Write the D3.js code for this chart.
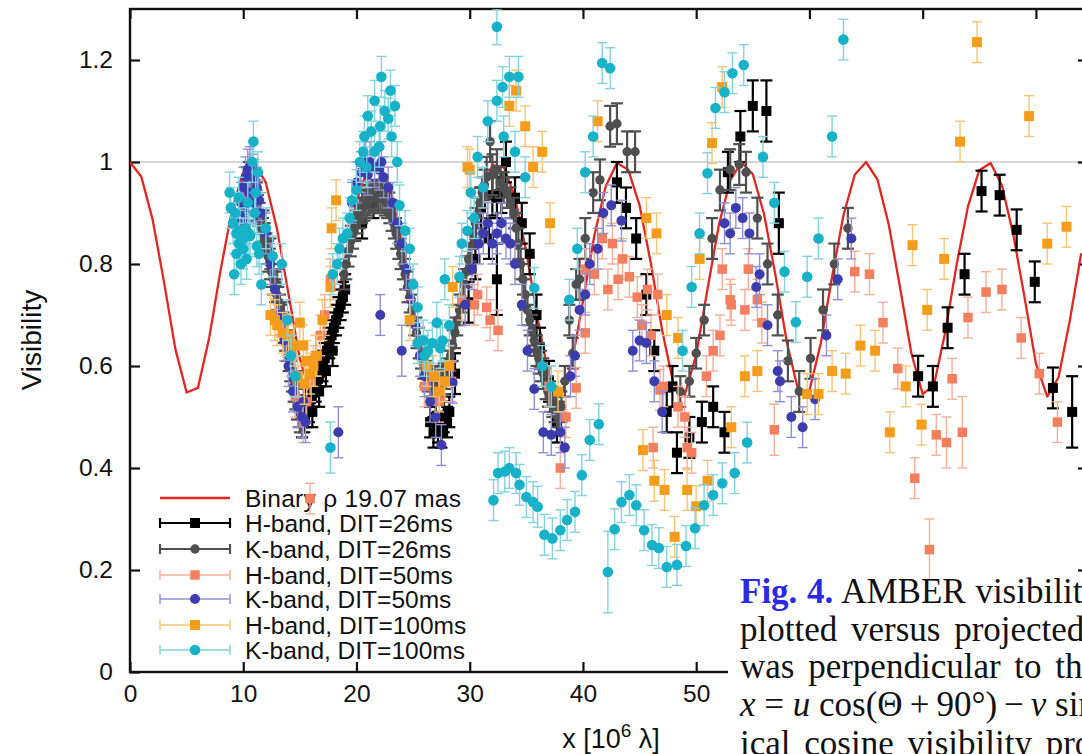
<!DOCTYPE html>
<html><head><meta charset="utf-8">
<script src="https://cdn.jsdelivr.net/npm/d3@7"></script>
<style>body{margin:0;background:#fff;overflow:hidden}</style>
</head><body>
<svg id="c" width="1082" height="754"></svg>
<script>
// ---------- data ----------
const xTicks = [0, 10, 20, 30, 40, 50, 60, 70, 80];
const yTicks = [0, 0.2, 0.4, 0.6, 0.8, 1, 1.2];
const yTickLabels = ["0", "0.2", "0.4", "0.6", "0.8", "1", "1.2"];

// binary model curve (rho = 19.07 mas), sampled at integer x
const modelX = [0,1,2,3,4,5,6,7,8,9,10,11,12,13,14,15,16,17,18,19,20,21,22,23,24,25,26,27,28,29,30,31,32,33,34,35,36,37,38,39,40,41,42,43,44,45,46,47,48,49,50,51,52,53,54,55,56,57,58,59,60,61,62,63,64,65,66,67,68,69,70,71,72,73,74,75,76,77,78,79,80,81,82,83,84];
const modelV = [1.000,0.971,0.887,0.765,0.634,0.548,0.557,0.656,0.788,0.905,0.980,0.999,0.959,0.867,0.741,0.614,0.541,0.570,0.680,0.811,0.923,0.988,0.996,0.946,0.846,0.716,0.595,0.539,0.586,0.704,0.834,0.939,0.994,0.991,0.931,0.824,0.692,0.579,0.539,0.603,0.727,0.855,0.952,0.998,0.985,0.915,0.801,0.669,0.564,0.544,0.622,0.751,0.876,0.964,1.000,0.976,0.897,0.778,0.647,0.553,0.552,0.644,0.775,0.895,0.975,1.000,0.966,0.878,0.754,0.625,0.545,0.563,0.667,0.799,0.913,0.984,0.998,0.954,0.858,0.734,0.605,0.540,0.578,0.690,0.821];

// each point: [x (10^6 lambda), visibility, error]
const h26 = [[15.2,.49,.03],[15.4,.50,.03],[15.6,.51,.03],[15.8,.52,.03],[16.0,.535,.03],[16.2,.55,.03],[16.4,.56,.03],[16.6,.575,.03],[16.8,.59,.03],[17.0,.60,.03],[17.2,.615,.03],[17.4,.63,.03],[17.6,.645,.03],[17.8,.66,.03],[18.0,.675,.03],[18.2,.69,.03],[18.4,.705,.03],[18.6,.72,.03],[18.8,.735,.03],[19.0,.75,.03],[15.5,.535,.03],[16.1,.51,.03],[16.7,.55,.03],[17.3,.59,.03],[17.9,.63,.03],[20.5,.88,.03],[21.5,.92,.03],
 [26.5,.49,.03],[26.8,.47,.03],[27.0,.50,.03],[27.2,.48,.03],[27.5,.47,.03],[27.7,.50,.03],[28.0,.49,.03],[28.2,.51,.03],[28.7,.585,.04],
 [29.9,.725,.04],[30.5,.81,.04],[31.0,.91,.04],[31.7,.85,.04],[32.0,.935,.04],[32.4,.93,.04],[32.4,.77,.07],[32.8,.94,.04],[33.2,1.0,.04],[34.0,.93,.04],[34.6,.88,.04],[35.3,.82,.04],[35.9,.70,.04],[36.2,.635,.04],[37.0,.57,.04],[37.7,.49,.04],
 [43.0,.96,.04],[43.8,.91,.04],[44.7,.85,.04],[45.6,.74,.04],[46.3,.63,.04],[47.4,.51,.04],[47.9,.56,.04],[48.3,.43,.04],[49.4,.46,.04],[50.5,.49,.04],[51.5,.52,.04],[52.5,.47,.04],[52.8,.98,.04],[53.9,1.05,.05],[55.0,1.11,.05],[56.2,1.10,.06],[57.3,.88,.06],
 [69.6,.58,.04],[70.9,.56,.04],[72.2,.675,.04],[73.7,.78,.04],[75.2,.943,.04],[76.8,.935,.04],[78.3,.867,.04],[79.9,.765,.04],[81.5,.557,.04],[83.2,.51,.07]];

const k26 = [[10.3,.96,.03],[10.5,.97,.03],[10.7,.965,.03],[10.9,.95,.03],[11.0,.93,.03],[11.15,.915,.03],[11.3,.905,.03],[11.45,.89,.03],[11.6,.87,.03],[11.75,.86,.03],[11.9,.85,.03],[12.05,.83,.03],[12.2,.815,.03],[12.35,.80,.03],[12.5,.785,.03],[12.65,.77,.03],[12.8,.755,.03],[12.95,.74,.03],[13.1,.725,.03],[13.25,.71,.03],[13.4,.69,.03],[13.55,.675,.03],[13.7,.66,.03],[13.85,.64,.03],[14.0,.62,.03],[14.15,.60,.03],[14.3,.58,.03],[14.45,.56,.03],[14.6,.545,.03],[14.75,.525,.03],[14.9,.51,.03],[15.0,.50,.03],
 [11.2,.93,.03],[11.8,.875,.03],[12.4,.82,.03],[13.0,.76,.03],[13.6,.695,.03],[14.2,.625,.03],[14.7,.56,.03],
 [18.9,.78,.03],[19.1,.80,.03],[19.3,.825,.03],[19.5,.845,.03],[19.7,.86,.03],[19.9,.875,.03],[20.1,.89,.03],[20.3,.90,.03],[20.5,.91,.03],[20.7,.915,.03],[20.9,.92,.03],[21.1,.925,.03],[21.3,.93,.03],[21.5,.93,.03],[21.7,.935,.03],[21.9,.93,.03],[22.1,.935,.03],[22.3,.93,.03],[22.5,.925,.03],[22.7,.92,.03],[22.9,.91,.03],[23.1,.895,.03],[23.3,.88,.03],[23.5,.86,.03],[23.7,.84,.03],[23.9,.82,.03],[24.1,.80,.03],[24.3,.78,.03],[24.5,.755,.03],[24.7,.735,.03],[24.9,.71,.03],[25.1,.69,.03],[25.3,.665,.03],[25.5,.645,.03],[25.7,.625,.03],[25.9,.605,.03],[26.1,.59,.03],[26.3,.58,.03],[26.5,.57,.03],[26.7,.565,.03],[26.9,.56,.03],[27.1,.56,.03],[27.3,.565,.03],[27.5,.57,.03],[27.7,.575,.03],[27.9,.585,.03],[28.1,.60,.03],[28.3,.62,.03],[28.5,.64,.03],[28.7,.665,.03],[28.9,.69,.03],[29.1,.71,.03],[29.3,.735,.03],[29.5,.76,.03],[29.7,.785,.03],[29.9,.81,.03],[30.1,.835,.03],[30.3,.86,.03],[30.5,.88,.03],[30.7,.90,.03],[30.9,.92,.03],[31.1,.94,.03],[31.3,.955,.03],[31.5,.97,.04],[31.8,1.04,.04],[32.0,.975,.04],[32.4,.985,.04],[32.7,.96,.03],[33.0,.95,.03],[33.3,.94,.03],[33.6,.92,.03],[33.9,.90,.03],[34.1,.87,.03],[34.3,.84,.03],[34.5,.80,.03],[34.7,.77,.03],[34.9,.74,.03],[35.1,.71,.03],[35.3,.69,.03],[35.5,.67,.03],[35.7,.65,.03],[35.9,.63,.03],[36.1,.615,.03],[36.3,.60,.03],[36.5,.585,.03],[36.7,.565,.03],[36.9,.55,.03],[37.1,.54,.03],[37.3,.53,.03],[37.5,.52,.03],[37.7,.51,.03],[37.9,.50,.03],[38.1,.52,.03],[38.4,.57,.03],[38.8,.69,.03],[39.1,.625,.03],[39.4,.76,.03],[39.7,.77,.04],[40.2,.85,.04],[40.9,.94,.04],[41.5,.965,.04],[42.4,1.07,.04],[43.0,1.075,.04],[43.9,1.02,.04],[44.6,1.02,.04],
 [48.6,.55,.03],[49.4,.57,.03],[50.0,.625,.03],[50.7,.69,.03],[51.4,.85,.04],[52.1,.945,.04],[53.0,.985,.04],[53.8,.995,.04],[54.4,.98,.04],[55.4,.89,.04],[56.3,.80,.04],[57.2,.70,.04],[58.1,.61,.04],[59.1,.55,.04],[60.1,.615,.04],[61.2,.71,.04],[62.2,.80,.04],[63.4,.87,.04]];

const h50 = [[13.8,.66,.04],[14.3,.62,.04],[14.6,.54,.04],[14.8,.58,.04],[15.3,.49,.04],[15.6,.53,.04],[16.0,.57,.04],[16.4,.62,.04],[16.8,.66,.04],[17.2,.70,.04],[17.7,.77,.04],[15.9,.34,.03],
 [26.0,.56,.04],[27.3,.53,.04],[28.4,.57,.04],
 [29.3,.73,.04],[30.4,.72,.04],[30.7,.74,.04],[31.5,.715,.04],[31.8,.69,.04],[32.5,.67,.04],
 [37.0,.56,.04],[38.0,.40,.04],[38.5,.50,.04],[39.4,.557,.04],
 [40.2,.665,.04],[40.2,.79,.04],[41.0,.78,.04],[41.7,.85,.04],[42.2,.75,.04],[42.6,.84,.04],[43.1,.77,.04],[43.5,.81,.04],[44.1,.775,.04],[44.8,.735,.04],[45.7,.75,.04],[46.6,.74,.04],[45.2,.68,.04],[46.0,.66,.04],
 [46.8,.553,.04],[47.1,.56,.04],[46.2,.44,.04],[49.2,.44,.04],[49.6,.43,.04],[50.9,.58,.04],[51.5,.63,.04],[52.1,.66,.04],[53.0,.73,.04],[48.4,.52,.04],[49.0,.50,.04],
 [52.3,.79,.04],[53.1,.72,.04],[54.3,.71,.04],[54.6,.79,.04],[55.4,.73,.04],[55.8,.685,.04],[56.9,.475,.05],[64.0,.785,.04],[65.3,.78,.04],[66.5,.685,.04],[67.8,.595,.04],[69.3,.38,.04],[70.6,.24,.06],[71.2,.465,.04],[72.1,.45,.05],[73.5,.47,.07],[72.6,.575,.04],[74.0,.695,.04],[75.6,.745,.04],[77.0,.75,.04],[78.7,.655,.04],[80.3,.585,.04],[81.9,.49,.04]];

const k50 = [[9.6,.88,.04],[9.8,.92,.04],[10.0,.95,.04],[10.2,.97,.04],[10.4,.985,.04],[10.6,.99,.04],[10.8,.975,.04],[11.0,.965,.04],[11.2,.95,.04],[10.1,.90,.04],[10.5,.94,.04],[10.9,.92,.04],[11.4,.925,.04],[9.9,.86,.04],[10.3,.88,.04],
 [11.6,.90,.04],[12.0,.86,.04],[12.4,.80,.04],[12.8,.75,.04],[13.2,.70,.04],[13.6,.65,.04],[14.0,.60,.04],[14.4,.55,.04],[14.8,.52,.04],[15.2,.50,.04],[15.5,.49,.04],[15.3,.53,.04],
 [18.4,.47,.05],[22.1,.70,.04],[24.0,.63,.05],
 [19.6,.92,.04],[20.0,.96,.04],[20.4,.98,.04],[20.8,1.0,.04],[21.0,.975,.04],[21.2,1.0,.04],[21.6,.99,.04],[22.0,.985,.04],[22.2,1.0,.04],[22.4,.97,.04],[22.8,.95,.04],[23.2,.92,.04],[23.6,.88,.04],[24.0,.84,.04],[24.4,.79,.04],[24.8,.73,.04],[25.2,.68,.04],[25.6,.62,.04],[26.0,.58,.04],[26.5,.53,.04],[27.0,.50,.04],[27.5,.445,.04],[28.5,.567,.04],
 [29.6,.72,.04],[30.2,.79,.04],[30.8,.84,.04],[31.2,.86,.04],[31.6,.88,.04],[32.0,.84,.04],[32.4,.86,.04],[32.8,.88,.04],[33.2,.85,.04],[33.6,.84,.04],[34.0,.80,.04],[34.6,.72,.04],[35.1,.63,.04],[35.7,.555,.04],[36.5,.47,.04],[37.2,.465,.04],[38.0,.47,.04],[38.4,.44,.04],
 [38.9,.58,.04],[39.3,.62,.04],[39.7,.71,.04],[40.2,.74,.04],[40.6,.80,.04],[41.3,.83,.04],[41.8,.90,.04],[42.5,.915,.04],[43.4,.885,.04],
 [44.4,.63,.04],[45.0,.65,.04],[45.6,.645,.04],[46.3,.57,.04],[47.0,.51,.04],
 [52.5,.88,.04],[53.0,.86,.04],[53.5,.91,.04],[54.1,.89,.04],[54.7,.86,.04],[55.3,.755,.04],[55.6,.78,.04],[56.3,.68,.04],[57.2,.59,.04],[57.4,.57,.04],[58.4,.50,.04],[59.4,.48,.04],[60.5,.535,.04],[61.5,.66,.04],[62.5,.77,.04],[63.7,.85,.04]];

const h100 = [[12.4,.70,.04],[12.8,.69,.04],[13.0,.68,.04],[13.5,.665,.04],[14.0,.66,.04],[14.5,.64,.04],[14.8,.58,.04],[15.0,.685,.04],[15.3,.64,.04],[15.4,.565,.04],[15.6,.61,.04],[15.9,.585,.04],[16.2,.60,.04],[16.5,.62,.04],[17.0,.69,.04],[17.7,.755,.04],[17.8,.87,.04],[18.2,.925,.04],
 [24.7,.69,.04],[26.2,.60,.04],[26.8,.58,.04],[27.3,.55,.04],[27.8,.57,.04],[28.2,.60,.04],
 [28.5,.755,.04],[29.8,.99,.04],[30.0,.985,.04],[33.5,1.11,.04],[34.1,1.14,.04],[34.9,1.07,.04],[35.6,.99,.04],[36.4,1.02,.04],[37.1,.88,.04],[37.8,.55,.04],
 [41.3,1.08,.04],[45.6,.89,.04],[46.5,.86,.04],[47.4,.70,.04],[48.4,.655,.04],[45.3,.435,.04],[46.3,.375,.04],[47.2,.357,.04],[48.1,.265,.04],[49.2,.357,.04],[50.0,.325,.04],[51.0,.375,.04],[53.1,.48,.04],[50.3,.81,.04],[51.4,1.037,.04],[52.3,1.147,.04],
 [54.3,.58,.04],[55.4,.59,.04],[59.8,.545,.04],[60.8,.545,.04],[62.0,.59,.04],[63.2,.585,.04],[64.5,.64,.04],[65.8,.63,.04],[67.1,.47,.04],[68.5,.56,.04],[69.9,.485,.04],[70.4,.71,.04],[69.1,.837,.04],[71.9,.81,.04],[73.3,1.04,.04],[74.8,1.235,.04],[79.4,1.09,.04],[81.0,.84,.04],[82.7,.873,.04]];

const k100 = [[8.8,.94,.04],[8.9,.91,.04],[9.1,.88,.04],[9.3,.90,.04],[9.4,.86,.04],[9.4,.82,.04],[9.6,.84,.04],[9.7,.865,.04],[9.8,.80,.04],[10.0,.85,.04],[10.0,.83,.04],[10.2,.87,.04],[10.3,.81,.04],[10.5,.86,.04],[10.6,.855,.04],[10.8,1.0,.04],[10.9,1.04,.04],[11.0,.90,.04],[11.2,.835,.04],[11.3,.98,.04],[11.4,.82,.04],[11.6,.76,.04],[9.2,.78,.04],[9.6,.93,.04],[10.4,.92,.04],[11.1,.94,.04],
 [12.0,.87,.04],[12.6,.815,.04],[13.4,.80,.04],[13.9,.69,.04],[14.2,.62,.04],[14.6,.58,.04],[17.7,.44,.05],
 [17.9,.78,.04],[18.3,.80,.04],[18.5,.83,.04],[18.8,.85,.04],[19.2,.86,.04],[19.4,.89,.04],[19.6,.925,.04],[20.0,.945,.04],[20.3,1.0,.04],[20.6,1.02,.04],
 [20.7,1.05,.04],[20.9,.99,.04],[21.0,1.09,.04],[21.3,1.06,.04],[21.6,1.12,.04],[21.6,1.02,.04],[22.0,1.03,.04],[22.1,1.07,.04],[22.2,1.167,.04],[22.5,1.10,.04],[22.8,1.085,.04],[23.0,1.14,.04],[23.1,1.05,.04],[23.4,1.11,.04],[23.6,1.00,.04],[23.8,.915,.04],[24.3,.865,.04],[24.7,.83,.04],[25.0,.76,.04],
 [25.4,.715,.04],[25.4,.645,.04],[25.9,.65,.04],[26.0,.62,.04],[26.3,.63,.04],[26.7,.645,.04],[27.1,.685,.04],[27.4,.635,.04],[27.6,.65,.04],[28.2,.68,.04],
 [27.8,.77,.04],[29.1,.775,.04],[29.3,.84,.04],[29.8,.865,.04],[30.1,.94,.04],[30.4,.89,.04],[30.7,1.01,.04],[31.2,.95,.04],[31.6,1.08,.04],[32.4,1.12,.04],[32.9,1.147,.04],[33.0,1.05,.04],[33.5,1.167,.04],[34.0,1.02,.04],[34.3,1.167,.04],[32.4,1.265,.035],[34.9,.97,.04],
 [35.7,.753,.04],[36.4,.60,.04],[37.2,.56,.04],
 [38.8,.73,.04],[39.5,.83,.04],[40.2,.98,.04],[40.9,1.05,.04],[41.7,1.194,.04],[42.4,1.184,.04],
 [32.1,.337,.04],[32.5,.39,.04],[33.1,.393,.04],[33.5,.40,.04],[34.1,.39,.04],[34.4,.367,.04],[35.0,.343,.04],[35.6,.333,.04],[36.0,.324,.04],[36.6,.269,.04],[37.3,.262,.04],[38.0,.278,.04],[38.6,.298,.04],[39.3,.314,.04],[39.9,.386,.04],[40.6,.455,.04],[41.4,.486,.04],[42.2,.196,.08],[42.8,.28,.04],[43.4,.333,.04],[44.1,.347,.04],[44.7,.327,.04],[45.4,.278,.04],[46.1,.249,.04],[46.7,.243,.04],[47.4,.206,.04],[48.3,.21,.04],[49.1,.247,.04],[49.9,.282,.04],[50.7,.327,.04],[51.5,.347,.04],[52.3,.37,.04],[53.4,.39,.04],[54.5,.45,.04],
 [48.8,.63,.04],[49.6,.755,.04],[50.3,.86,.04],[51.0,.978,.04],[51.7,1.106,.04],[52.5,1.137,.04],[53.2,1.174,.04],[54.2,1.19,.04],[55.9,1.01,.04],[56.9,.92,.04],[57.8,.785,.04],[58.8,.686,.04],[59.8,.775,.04],[60.8,.85,.04],[62.0,1.05,.04],[63.0,1.24,.04]];

const legendLabels = ["Binary \u03c1 19.07 mas","H-band, DIT=26ms","K-band, DIT=26ms","H-band, DIT=50ms","K-band, DIT=50ms","H-band, DIT=100ms","K-band, DIT=100ms"];

// ---------- drawing ----------
const svg = d3.select("#c");
const L = 130, T = 9, R = 1088, B = 672;
const x = d3.scaleLinear().domain([0, 84.6]).range([L, R]);
const y = d3.scaleLinear().domain([0, 1.3]).range([B, T]);
const FONT = "'Liberation Sans', Arial, Helvetica, sans-serif";
const FS = 24.5;

svg.append("rect").attr("width",1082).attr("height",754).attr("fill","#fff");
svg.append("defs").append("clipPath").attr("id","clip")
  .append("rect").attr("x",L).attr("y",T).attr("width",R-L).attr("height",B-T);

// reference line V=1
svg.append("line").attr("x1",L).attr("x2",R).attr("y1",y(1)).attr("y2",y(1))
  .attr("stroke","#c9c9c9").attr("stroke-width",1.3);

// axes with inward ticks
function styleAxis(g){ g.select(".domain").remove(); g.selectAll(".tick line").attr("stroke","#111").attr("stroke-width",2.2);
  g.selectAll("text").attr("font-family",FONT).attr("font-size",FS).attr("fill","#111"); }
svg.append("g").attr("transform",`translate(0,${B})`)
  .call(d3.axisBottom(x).tickValues(xTicks).tickSize(-10).tickPadding(13).tickFormat(d3.format("d"))).call(styleAxis);
svg.append("g").attr("transform",`translate(0,${T})`)
  .call(d3.axisTop(x).tickValues(xTicks).tickSize(-10).tickFormat("")).call(styleAxis);
svg.append("g").attr("transform",`translate(${L},0)`)
  .call(d3.axisLeft(y).tickValues(yTicks).tickSize(-10).tickPadding(17).tickFormat((d,i)=>yTickLabels[i])).call(styleAxis);
svg.append("g").attr("transform",`translate(${R},0)`)
  .call(d3.axisRight(y).tickValues(yTicks).tickSize(-10).tickFormat("")).call(styleAxis);

// frame
svg.append("rect").attr("x",L).attr("y",T).attr("width",R-L).attr("height",B-T)
  .attr("fill","none").attr("stroke","#111").attr("stroke-width",2.4);

// axis titles
svg.append("text").attr("transform","translate(41,340) rotate(-90)").attr("text-anchor","middle")
  .attr("font-family",FONT).attr("font-size",28).attr("fill","#111").text("Visibility");
const xt = svg.append("text").attr("x",611).attr("y",748).attr("text-anchor","middle")
  .attr("font-family",FONT).attr("font-size",27).attr("fill","#111");
xt.append("tspan").text("x [10");
xt.append("tspan").attr("dy",-11).attr("font-size",19).text("6");
xt.append("tspan").attr("dy",11).text(" \u03bb]");

// series definitions
const series = [
  {data:h26,  shape:"sq",  fill:"#000000", bar:"#000000", bw:2.2, cap:12, size:10},
  {data:k26,  shape:"ci",  fill:"#4f4f4f", bar:"#4f4f4f", bw:2.2, cap:12, size:9.4},
  {data:h50,  shape:"sq",  fill:"#f47f5f", bar:"#f8ae97", bw:1.4, cap:10, size:9.5},
  {data:k50,  shape:"ci",  fill:"#3c3cae", bar:"#8f8fd6", bw:1.4, cap:10, size:10},
  {data:h100, shape:"sq",  fill:"#f49d1c", bar:"#f8c473", bw:1.4, cap:10, size:10},
  {data:k100, shape:"ci",  fill:"#17b2c8", bar:"#80d3df", bw:1.4, cap:10, size:10.6}
];

// legend (drawn beneath data)
const legY = [498, 523, 549, 575, 599, 625, 650];
const leg = svg.append("g");
leg.append("line").attr("x1",160).attr("x2",230).attr("y1",legY[0]).attr("y2",legY[0])
  .attr("stroke","#e3261f").attr("stroke-width",2.4);
series.forEach((s,i)=>{
  const yy = legY[i+1];
  const g = leg.append("g").attr("stroke",s.bar).attr("stroke-width",s.bw);
  g.append("line").attr("x1",160).attr("x2",230).attr("y1",yy).attr("y2",yy);
  g.append("line").attr("x1",160).attr("x2",160).attr("y1",yy-5).attr("y2",yy+5);
  g.append("line").attr("x1",230).attr("x2",230).attr("y1",yy-5).attr("y2",yy+5);
  if (s.shape==="sq") leg.append("rect").attr("x",195-s.size/2).attr("y",yy-s.size/2).attr("width",s.size).attr("height",s.size).attr("fill",s.fill);
  else leg.append("circle").attr("cx",195).attr("cy",yy).attr("r",s.size/2).attr("fill",s.fill);
});
legendLabels.forEach((t,i)=>{
  const tx = leg.append("text").attr("x",245).attr("y",legY[i]).attr("dy","0.36em")
    .attr("font-family",FONT).attr("font-size",FS).attr("fill","#111").text(t);
  if (i===0) tx.attr("textLength",216).attr("lengthAdjust","spacing");
});

// plot content
const plot = svg.append("g").attr("clip-path","url(#clip)");
plot.append("path").datum(modelX.map((d,i)=>[d, modelV[i]]))
  .attr("d", d3.line().x(d=>x(d[0])).y(d=>y(d[1])))
  .attr("fill","none").attr("stroke","#e3261f").attr("stroke-width",2.3).attr("stroke-linejoin","round");

series.forEach(s=>{
  const g = plot.append("g");
  const eb = g.append("g").attr("stroke",s.bar).attr("stroke-width",s.bw);
  s.data.forEach(d=>{
    const px = x(d[0]), y1 = y(d[1]-d[2]), y2 = y(d[1]+d[2]);
    eb.append("line").attr("x1",px).attr("x2",px).attr("y1",y1).attr("y2",y2);
    eb.append("line").attr("x1",px-s.cap/2).attr("x2",px+s.cap/2).attr("y1",y1).attr("y2",y1);
    eb.append("line").attr("x1",px-s.cap/2).attr("x2",px+s.cap/2).attr("y1",y2).attr("y2",y2);
  });
  if (s.shape==="sq")
    g.selectAll("rect").data(s.data).join("rect")
      .attr("x",d=>x(d[0])-s.size/2).attr("y",d=>y(d[1])-s.size/2)
      .attr("width",s.size).attr("height",s.size).attr("fill",s.fill);
  else
    g.selectAll("circle").data(s.data).join("circle")
      .attr("cx",d=>x(d[0])).attr("cy",d=>y(d[1])).attr("r",s.size/2).attr("fill",s.fill);
});

// caption block (covers bottom-right of figure)
svg.append("rect").attr("x",728).attr("y",582).attr("width",360).attr("height",180).attr("fill","#fff");
const SERIF = "'Liberation Serif', 'Times New Roman', Times, serif";
const cap = svg.append("g").attr("font-family",SERIF).attr("font-size",35).attr("fill","#111");
const l1 = cap.append("text").attr("x",740).attr("y",603).attr("word-spacing",1);
l1.append("tspan").attr("font-weight","bold").attr("fill","#2b2be6").text("Fig. 4.");
l1.append("tspan").text(" AMBER visibilities of the binary");
cap.append("text").attr("x",740).attr("y",641).attr("word-spacing",5).text("plotted versus projected baseline");
cap.append("text").attr("x",740).attr("y",678).attr("word-spacing",5).text("was perpendicular to the binary");
const l4 = cap.append("text").attr("x",740).attr("y",716);
l4.append("tspan").attr("font-style","italic").text("x");
l4.append("tspan").text(" = ");
l4.append("tspan").attr("font-style","italic").text("u");
l4.append("tspan").text(" cos(\u0398\u2009+\u200990\u00b0)\u2009\u2212\u2009");
l4.append("tspan").attr("font-style","italic").text("v");
l4.append("tspan").text(" sin(\u0398\u2009+\u200990\u00b0)");
cap.append("text").attr("x",740).attr("y",755).attr("word-spacing",5).text("ical cosine visibility profile");
</script>
</body></html>
